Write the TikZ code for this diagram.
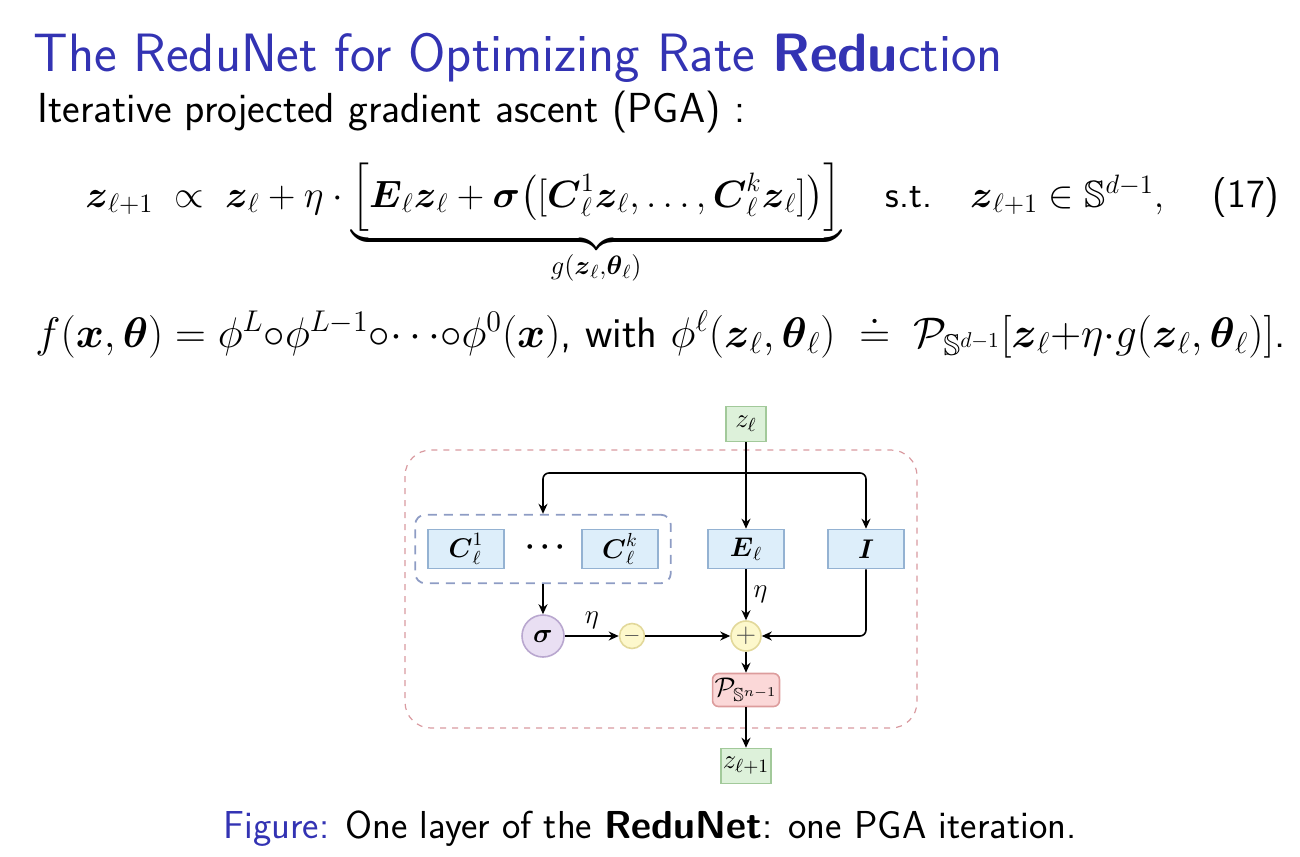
\RequirePackage{fix-cm}
\documentclass[tikz,border=0pt]{standalone}
\usepackage{amsmath}
\usepackage{amssymb}
\usepackage{tikz}
\usetikzlibrary{arrows.meta, positioning, calc, fit}
\definecolor{slideblue}{HTML}{3333B3}
\definecolor{opblue}{HTML}{DDEEFA}
\definecolor{opblueline}{HTML}{94B2D2}
\definecolor{iogreen}{HTML}{DDF1DA}
\definecolor{iogreenline}{HTML}{A2C99A}
\definecolor{sigpurple}{HTML}{E9DFF3}
\definecolor{sigpurpleline}{HTML}{B9A7CF}
\definecolor{sumyellow}{HTML}{FDF8CC}
\definecolor{sumyellowline}{HTML}{E2D89A}
\definecolor{projred}{HTML}{FBD8D8}
\definecolor{projredline}{HTML}{DC9C9C}
\definecolor{framered}{HTML}{D99AA0}
\definecolor{groupblue}{HTML}{8E9CC4}
\tikzset{
  opbox/.style={rectangle, draw=opblueline, fill=opblue, thick,
                minimum width=38pt, minimum height=19.5pt, inner sep=1pt},
  iobox/.style={rectangle, draw=iogreenline, fill=iogreen, thick,
                minimum width=20pt, minimum height=17.5pt, inner sep=1pt},
  sumnode/.style={circle, draw=sumyellowline, fill=sumyellow, thick,
                  minimum size=#1, inner sep=0pt},
  sumnode/.default=15pt,
  arr/.style={-{Stealth[length=5pt, width=4.5pt]}, line width=0.8pt, #1},
  arr/.default=black,
  slidetext/.style={anchor=base west, inner sep=0pt, font=\sffamily\fontsize{#1}{#1}\selectfont},
}

\begin{document}
\begin{tikzpicture}[x=0.5pt, y=-0.5pt, every node/.style={font=\fontsize{13.5}{15}\selectfont}]
  \useasboundingbox (0,0) rectangle (1300,856);

  % slide text
  \node[slidetext=27, text=slideblue] (title) at (33,72)
    {The ReduNet for Optimizing Rate \textbf{Redu}ction};
  \node[slidetext=21] (intro) at (37,122) {Iterative projected gradient ascent (PGA) :};
  \node[slidetext=19] (eqone) at (85,207)
    {$\boldsymbol{z}_{\ell+1} \;\propto\; \boldsymbol{z}_\ell + \eta\cdot
      \underbrace{\Big[\boldsymbol{E}_\ell\boldsymbol{z}_\ell + \boldsymbol{\sigma}\big([\boldsymbol{C}_\ell^1\boldsymbol{z}_\ell,\dots,\boldsymbol{C}_\ell^k\boldsymbol{z}_\ell]\big)\Big]}_{g(\boldsymbol{z}_\ell,\boldsymbol{\theta}_\ell)}
      \quad\text{s.t.}\quad \boldsymbol{z}_{\ell+1}\in\mathbb{S}^{d-1},$};
  \node[slidetext=20, anchor=base east] (tag) at (1280,207) {(17)};
  \node[slidetext=21.4] (eqtwo) at (35,347)
    {$f(\boldsymbol{x},\boldsymbol{\theta}) = \phi^L{\circ}\phi^{L-1}{\circ}{\cdots}{\circ}\phi^0(\boldsymbol{x})$, with
     $\phi^\ell(\boldsymbol{z}_\ell,\boldsymbol{\theta}_\ell) \;\doteq\; \mathcal{P}_{\mathbb{S}^{d-1}}[\boldsymbol{z}_\ell{+}\eta{\cdot}g(\boldsymbol{z}_\ell,\boldsymbol{\theta}_\ell)]$.};
  \node[slidetext=19.5, anchor=base] (caption) at (650,838)
    {\textcolor{slideblue}{Figure:} One layer of the \textbf{ReduNet}: one PGA iteration.};

  % one layer
  \draw[framered, dashed, dash pattern=on 3pt off 3pt, line width=0.6pt, rounded corners=13pt]
    (405,450) rectangle (917,728);

  \node[iobox] (zin) at (746,424) {$z_\ell$};
  \node[opbox] (cone) at (466,549) {$\boldsymbol{C}_\ell^1$};
  \node[font=\fontsize{15}{15}\selectfont, inner sep=0pt] (dots) at (548,547) {$\boldsymbol{\cdots}$};
  \node[opbox] (ck) at (620,549) {$\boldsymbol{C}_\ell^k$};
  \node[opbox] (ebox) at (746,549) {$\boldsymbol{E}_\ell$};
  \node[opbox] (ibox) at (866,549) {$\boldsymbol{I}$};
  \node[rectangle, rounded corners=5pt, draw=groupblue, dashed, dash pattern=on 4.5pt off 3.5pt,
        line width=0.9pt, inner xsep=6pt, inner ysep=7pt, fit=(cone) (ck)] (group) {};

  \node[circle, draw=sigpurpleline, fill=sigpurple, thick, minimum size=21pt, inner sep=0pt]
    (sigma) at (543,636) {$\boldsymbol{\sigma}$};
  \node[sumnode=12.5pt, font=\fontsize{11}{11}\selectfont, text=black!70] (minus) at (632,636) {$-$};
  \node[sumnode, text=black!70] (plus) at (746,636) {$+$};
  \node[rectangle, rounded corners=3pt, draw=projredline, fill=projred, thick,
        minimum width=31pt, minimum height=16.5pt, inner sep=1pt]
    (proj) at (746,690) {$\mathcal{P}_{\mathbb{S}^{n-1}}$};
  \node[iobox] (zout) at (746,766) {$z_{\ell+1}$};

  \coordinate (split) at (746,473);
  \draw[arr] (zin) -- (ebox);
  \draw[arr, rounded corners=3pt] (split) -| (group.north);
  \draw[arr, rounded corners=3pt] (split) -| (ibox.north);
  \draw[arr] (group.south) -- (sigma);
  \draw[arr] (sigma) -- node[above] {$\eta$} (minus);
  \draw[arr] (minus) -- (plus);
  \draw[arr] (ebox) -- node[right] {$\eta$} (plus);
  \draw[arr, rounded corners=3pt] (ibox.south) |- (plus.east);
  \draw[arr] (plus) -- (proj);
  \draw[arr] (proj) -- (zout);
\end{tikzpicture}
\end{document}
